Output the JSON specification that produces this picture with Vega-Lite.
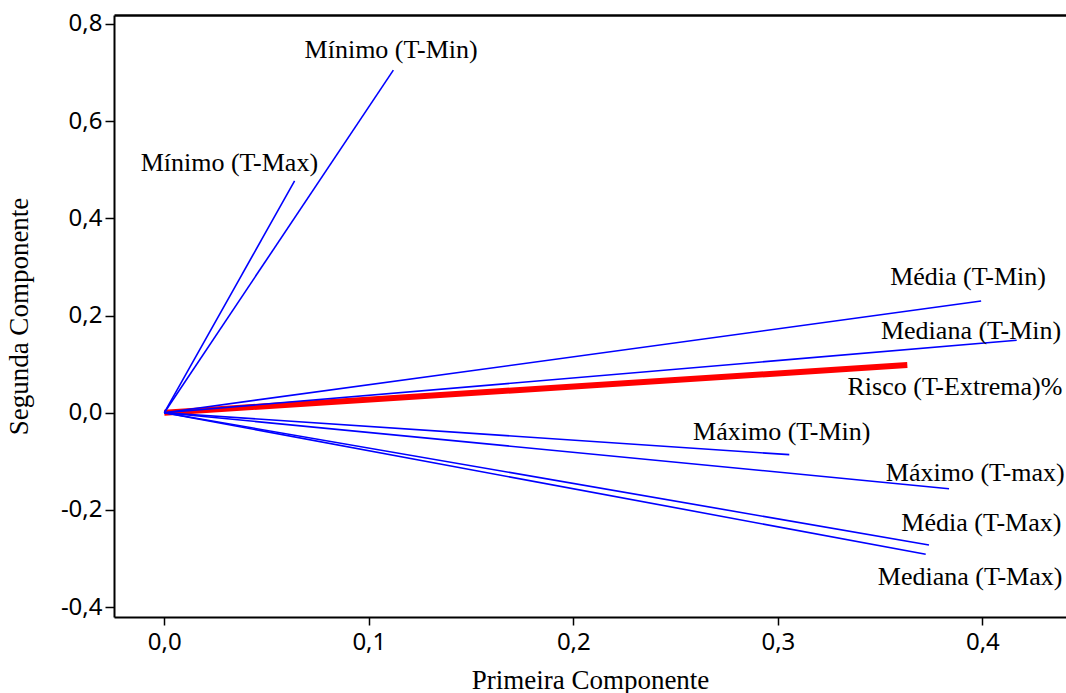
{
  "$schema": "https://vega.github.io/schema/vega-lite/v6.json",
  "width": 952,
  "height": 602,
  "autosize": "none",
  "padding": {"left": 114, "top": 15, "right": 0, "bottom": 76},
  "background": "white",
  "config": {"view": {"stroke": null}},
  "data": {
    "values": [
      {"var": "Mínimo (T-Min)", "x0": 0, "y0": 0, "x": 0.112, "y": 0.705, "lx": 0.1109, "ly": 0.746, "grp": "v"},
      {"var": "Mínimo (T-Max)", "x0": 0, "y0": 0, "x": 0.0637, "y": 0.477, "lx": 0.0318, "ly": 0.5133, "grp": "v"},
      {"var": "Média (T-Min)", "x0": 0, "y0": 0, "x": 0.3994, "y": 0.2298, "lx": 0.393, "ly": 0.2799, "grp": "v"},
      {"var": "Mediana (T-Min)", "x0": 0, "y0": 0, "x": 0.4168, "y": 0.149, "lx": 0.3945, "ly": 0.169, "grp": "v"},
      {"var": "Risco (T-Extrema)%", "x0": 0, "y0": 0, "x": 0.3633, "y": 0.098, "lx": 0.3866, "ly": 0.0535, "grp": "r"},
      {"var": "Máximo (T-Min)", "x0": 0, "y0": 0, "x": 0.3056, "y": -0.0864, "lx": 0.3019, "ly": -0.039, "grp": "v"},
      {"var": "Máximo (T-max)", "x0": 0, "y0": 0, "x": 0.3837, "y": -0.1564, "lx": 0.3965, "ly": -0.1235, "grp": "v"},
      {"var": "Média (T-Max)", "x0": 0, "y0": 0, "x": 0.3739, "y": -0.2723, "lx": 0.3995, "ly": -0.2277, "grp": "v"},
      {"var": "Mediana (T-Max)", "x0": 0, "y0": 0, "x": 0.3723, "y": -0.2914, "lx": 0.394, "ly": -0.3375, "grp": "v"}
    ]
  },
  "resolve": {"axis": {"x": "independent"}},
  "layer": [
    {
      "transform": [{"filter": "datum.grp == 'r'"}],
      "mark": {"type": "rule", "color": "#ff0000", "strokeWidth": 6, "strokeCap": "butt"},
      "encoding": {
        "x": {"field": "x0", "type": "quantitative",
          "scale": {"domain": [-0.0246, 0.4409], "nice": false, "zero": false},
          "axis": {
            "orient": "bottom",
            "values": [0, 0.1, 0.2, 0.3, 0.4],
            "labelExpr": "replace(replace(format(datum.value, '.1f'), '.', ','), '\u2212', '-')",
            "labelFont": "Noto Sans", "labelFontSize": 24, "labelColor": "#000", "labelPadding": 5,
            "domainColor": "#000", "domainWidth": 2, "tickColor": "#000", "tickWidth": 1.5, "tickSize": 8,
            "grid": false,
            "title": "Primeira Componente", "titleFont": "Liberation Serif", "titleFontSize": 27,
            "titleFontWeight": "normal", "titleColor": "#000", "titlePadding": 13
          }},
        "y": {"field": "y0", "type": "quantitative",
          "scale": {"domain": [-0.4205, 0.8185], "nice": false, "zero": false},
          "axis": {
            "values": [-0.4, -0.2, 0, 0.2, 0.4, 0.6, 0.8],
            "labelExpr": "replace(replace(format(datum.value, '.1f'), '.', ','), '\u2212', '-')",
            "labelFont": "Noto Sans", "labelFontSize": 24, "labelColor": "#000", "labelPadding": 3,
            "domainColor": "#000", "domainWidth": 2, "tickColor": "#000", "tickWidth": 1.5, "tickSize": 9,
            "grid": false,
            "title": "Segunda Componente", "titleFont": "Liberation Serif", "titleFontSize": 27,
            "titleFontWeight": "normal", "titleColor": "#000",
            "titleX": -95, "titleBaseline": "middle", "titleAlign": "center"
          }},
        "x2": {"field": "x"},
        "y2": {"field": "y"}
      }
    },
    {
      "transform": [{"filter": "datum.grp == 'v'"}],
      "mark": {"type": "rule", "color": "#0000ff", "strokeWidth": 1.6},
      "encoding": {
        "x": {"field": "x0", "type": "quantitative",
          "axis": {"orient": "top", "labels": false, "ticks": false, "title": null, "grid": false,
                   "domainColor": "#000", "domainWidth": 2.5}},
        "y": {"field": "y0", "type": "quantitative"},
        "x2": {"field": "x"},
        "y2": {"field": "y"}
      }
    },
    {
      "mark": {"type": "text", "font": "Liberation Serif", "fontSize": 26, "color": "#000",
               "align": "center", "baseline": "middle"},
      "encoding": {
        "x": {"field": "lx", "type": "quantitative", "axis": null},
        "y": {"field": "ly", "type": "quantitative"},
        "text": {"field": "var"}
      }
    }
  ]
}
